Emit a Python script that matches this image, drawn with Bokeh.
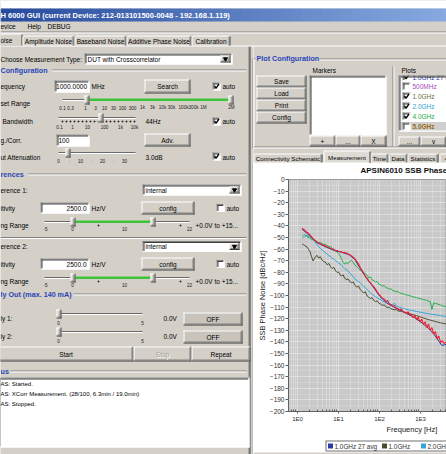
from bokeh.plotting import figure
from bokeh.models import Range1d, FixedTicker, Title, ColumnDataSource
from bokeh.layouts import column, row
from bokeh.embed import file_html
from bokeh.resources import INLINE
from bokeh.core.properties import value

# ------------------------------------------------------------------ data
freq_hz = [1.3, 1.4, 1.5, 1.6, 1.7, 1.8, 2.0, 2.2, 2.4, 2.6, 2.8, 3.0, 3.3, 3.6,
           4.0, 4.4, 4.8, 5.3, 5.8, 6.4, 7.0, 7.7, 8.5, 9.3, 10, 11, 12, 13, 14,
           16, 17, 19, 21, 23, 25, 28, 31, 34, 37, 41, 45, 50, 55, 60, 66, 73,
           80, 88, 97, 107, 118, 130, 143, 157, 173, 190, 210, 230, 255, 280,
           310, 340, 375, 410, 450, 500, 550, 600, 660, 730, 800, 880, 970,
           1070, 1180, 1300, 1430, 1570, 1730, 1900, 2100, 2300, 2550, 2800,
           3100, 3400, 3750, 4100, 4500]

red_dbc = [-42.0, -43.0, -43.5, -44.8, -45.5, -46.0, -47.8, -49.5, -51.0, -52.2,
           -53.0, -54.0, -54.6, -55.5, -56.0, -56.8, -57.2, -58.0, -58.5, -59.4,
           -59.8, -60.6, -61.0, -61.2, -61.8, -62.0, -62.6, -62.9, -63.0, -63.6,
           -64.2, -64.8, -65.9, -67.2, -68.5, -70.6, -73.0, -75.8, -78.2, -80.5,
           -83.4, -85.2, -87.5, -89.0, -90.8, -92.6, -94.5, -96.8, -99.0, -100.5,
           -102.4, -103.0, -105.2, -104.6, -107.4, -108.0, -109.2, -108.6, -110.8,
           -111.2, -112.5, -111.6, -113.9, -114.2, -115.6, -114.0, -117.0, -116.4,
           -119.2, -116.8, -120.8, -118.5, -122.9, -120.2, -125.0, -122.6, -127.8,
           -124.5, -130.2, -127.6, -133.4, -131.0, -137.2, -135.0, -140.6, -138.8,
           -141.4, -140.2, -141.0]

green_dbc = [-49.0, -48.0, -47.5, -48.6, -49.0, -49.8, -50.5, -51.8, -52.0, -52.9,
             -53.1, -53.5, -54.6, -54.2, -55.3, -56.0, -55.6, -57.2, -58.0, -57.6,
             -59.4, -60.0, -61.5, -62.6, -63.8, -66.0, -68.8, -71.5, -72.8, -71.6,
             -72.6, -70.4, -69.8, -71.5, -73.6, -75.2, -76.8, -78.4, -77.6, -80.5,
             -81.2, -82.6, -84.8, -84.0, -86.5, -87.2, -88.6, -88.0, -90.4, -90.8,
             -91.9, -91.4, -93.2, -93.6, -94.5, -94.2, -95.6, -96.0, -96.8, -96.5,
             -97.8, -98.2, -98.6, -98.9, -99.6, -99.8, -100.3, -100.6, -101.2,
             -101.4, -101.9, -102.2, -102.7, -103.0, -103.5, -103.8, -104.4,
             -104.8, -105.3, -112.0, -106.2, -106.8, -107.2, -107.8, -108.2,
             -108.9, -109.3, -109.8, -110.2]

ltblue_dbc = [-50.5, -50.0, -49.2, -48.6, -48.0, -48.8, -49.6, -50.8, -51.6, -53.0,
              -55.0, -56.2, -57.8, -59.4, -60.8, -62.0, -63.4, -64.2, -65.6, -66.4,
              -68.0, -68.6, -70.2, -71.0, -72.0, -72.8, -74.2, -75.6, -76.8, -78.0,
              -79.2, -80.6, -82.4, -84.0, -85.6, -87.0, -88.2, -89.0, -90.6, -92.0,
              -93.2, -95.0, -96.2, -97.6, -99.0, -100.0, -101.2, -102.0, -103.0,
              -103.6, -104.8, -105.2, -106.2, -104.0, -107.2, -107.6, -108.2,
              -106.6, -109.0, -109.6, -110.2, -110.6, -111.0, -111.3, -111.8,
              -112.2, -112.6, -112.8, -113.2, -113.4, -113.8, -114.0, -114.4,
              -114.6, -114.9, -115.2, -115.4, -115.7, -115.9, -116.2, -116.4,
              -116.6, -116.9, -117.1, -117.3, -117.6, -117.8, -118.0, -118.2]

olive_dbc = [-55.5, -56.2, -57.0, -57.4, -58.2, -59.5, -62.0, -66.5, -70.2, -68.0,
             -66.2, -65.4, -67.8, -66.6, -69.6, -70.8, -71.2, -73.6, -72.4, -75.2,
             -76.8, -75.6, -78.8, -80.2, -79.6, -82.4, -83.0, -82.2, -85.0, -86.4,
             -85.6, -88.2, -89.0, -88.4, -91.2, -92.6, -92.0, -95.0, -96.2, -97.8,
             -96.8, -100.4, -101.6, -102.6, -101.8, -104.4, -105.2, -104.6, -106.8,
             -107.4, -108.6, -108.0, -109.8, -110.4, -110.0, -111.4, -111.8, -112.4,
             -112.0, -113.2, -113.6, -113.4, -114.2, -114.6, -115.0, -115.4, -115.6,
             -116.2, -116.6, -117.0, -117.4, -117.8, -118.4, -118.8, -119.4, -119.8,
             -120.4, -120.8, -121.2, -121.6, -122.0, -122.4, -122.8, -123.2, -123.6,
             -123.9, -124.2, -124.5, -124.8]

avg_freq_hz = [1.3, 2, 3, 5, 8, 12, 18, 25, 35, 50, 70, 100, 150, 220, 330, 500,
               750, 1100, 1600, 2200, 2800, 3300, 3800, 4500]
avg_dbc = [-43.0, -48.5, -54.5, -58.3, -61.3, -62.8, -64.8, -69.0, -77.5, -86.0,
           -92.5, -100.5, -106.5, -109.8, -113.0, -116.2, -119.6, -123.8, -128.5,
           -134.0, -139.5, -143.0, -142.5, -142.0]

y_tick_values = [0, -10, -20, -30, -40, -50, -60, -70, -80, -90, -100, -110, -120,
                 -130, -140, -150, -160, -170, -180, -190, -200]
y_minor_values = [-5, -15, -25, -35, -45, -55, -65, -75, -85, -95, -105, -115,
                  -125, -135, -145, -155, -165, -175, -185, -195]
x_tick_values = [1, 10, 100, 1000]
x_tick_labels = ["1E0", "1E1", "1E2", "1E3"]
x_minor_values = [0.7, 0.8, 0.9, 2, 3, 4, 5, 6, 7, 8, 9, 20, 30, 40, 50, 60, 70,
                  80, 90, 200, 300, 400, 500, 600, 700, 800, 900, 2000, 3000, 4000]
legend_labels = ["1.0GHz  27 avg", "1.0GHz", "2.0GHz"]
plot_list_labels = ["500MHz", "1.0GHz", "2.0GHz", "4.0GHz", "5.0GHz"]
plot_list_checked = [False, True, True, True, False]

# ------------------------------------------------------------------ GUI helpers
FONT = "Liberation Sans"
GRAY = "#d4d0c8"
SHADOW = "#808080"
DKSHADOW = "#404040"
GROUP_BLUE = "#2a46b8"
WHITE = "#ffffff"
FS = 6.5


class Canvas:
    def __init__(self, x0, x1, y0, y1, bg=GRAY):
        self.p = figure(width=x1 - x0, height=y1 - y0,
                        x_range=Range1d(x0, x1), y_range=Range1d(y1, y0),
                        toolbar_location=None, output_backend="svg",
                        x_axis_location=None, y_axis_location=None,
                        min_border=0, outline_line_color=None, frame_align=False,
                        background_fill_color=bg, border_fill_color=bg)
        self.p.grid.visible = False
        self._new()

    def _new(self):
        self.q = dict(left=[], right=[], top=[], bottom=[], fill=[])
        self.s = dict(x0=[], y0=[], x1=[], y1=[], color=[], width=[])
        self.t = dict(x=[], y=[], text=[], size=[], color=[], style=[], align=[])
        self.m = dict(x=[], y=[], marker=[], size=[], color=[])

    def rect(self, l, t, r, b, fill):
        self.q["left"].append(l); self.q["right"].append(r)
        self.q["top"].append(t); self.q["bottom"].append(b)
        self.q["fill"].append(fill)

    def seg(self, x0, y0, x1, y1, color, width=1.0):
        for k, v in zip(("x0", "y0", "x1", "y1", "color", "width"),
                        (x0, y0, x1, y1, color, width)):
            self.s[k].append(v)

    def text(self, x, y, s, size=FS, color="black", bold=False, align="left"):
        self.t["x"].append(x); self.t["y"].append(y); self.t["text"].append(s)
        self.t["size"].append(f"{size}px"); self.t["color"].append(color)
        self.t["style"].append("bold" if bold else "normal")
        self.t["align"].append(align)

    def marker(self, x, y, kind, size, color):
        self.m["x"].append(x); self.m["y"].append(y); self.m["marker"].append(kind)
        self.m["size"].append(size); self.m["color"].append(color)

    def flush(self):
        p = self.p
        if self.q["left"]:
            p.quad(source=ColumnDataSource(self.q), left="left", right="right",
                   top="top", bottom="bottom", fill_color="fill", line_color=None)
        if self.s["x0"]:
            p.segment(source=ColumnDataSource(self.s), x0="x0", y0="y0", x1="x1",
                      y1="y1", line_color="color", line_width="width")
        if self.t["x"]:
            p.text(source=ColumnDataSource(self.t), x="x", y="y", text="text",
                   text_font=value(FONT), text_font_size="size",
                   text_color="color", text_font_style="style",
                   text_align="align", text_baseline="middle")
        if self.m["x"]:
            p.scatter(source=ColumnDataSource(self.m), x="x", y="y",
                      marker="marker", size="size", fill_color="color",
                      line_color="color")
        self._new()

    # ---- widgets
    def hline(self, x0, x1, y, color, w=1.0):
        self.seg(x0, y, x1, y, color, w)

    def vline(self, x, y0, y1, color, w=1.0):
        self.seg(x, y0, x, y1, color, w)

    def raised(self, l, t, r, b, fill=GRAY):
        self.rect(l, t, r, b, fill)
        self.hline(l, r, t + 0.5, WHITE)
        self.vline(l + 0.5, t, b, WHITE)
        self.hline(l, r, b - 0.5, DKSHADOW)
        self.vline(r - 0.5, t, b, DKSHADOW)
        self.hline(l + 1, r - 1, b - 1.5, SHADOW)
        self.vline(r - 1.5, t + 1, b - 1, SHADOW)

    def sunken(self, l, t, r, b, fill=WHITE):
        self.rect(l, t, r, b, fill)
        self.hline(l, r, t + 0.5, SHADOW)
        self.vline(l + 0.5, t, b, SHADOW)
        self.hline(l + 1, r - 1, t + 1.5, DKSHADOW)
        self.vline(l + 1.5, t + 1, b - 1, DKSHADOW)
        self.hline(l, r, b - 0.5, WHITE)
        self.vline(r - 0.5, t, b, WHITE)

    def button(self, l, t, r, b, label, color="black", fill=GRAY, size=FS):
        self.raised(l, t, r, b, fill)
        self.text((l + r) / 2, (t + b) / 2, label, size=size, color=color,
                  align="center")

    def combo(self, l, t, r, b, label):
        self.sunken(l, t, r, b)
        self.text(l + 3, (t + b) / 2, label)
        self.raised(r - 12, t + 2, r - 2, b - 2)
        self.marker(r - 7, (t + b) / 2, "inverted_triangle", 4, "black")

    def checkbox(self, x, y, checked):
        self.sunken(x, y - 4, x + 8, y + 4)
        if checked:
            self.seg(x + 2, y - 0.5, x + 3.5, y + 1.8, "black", 1.4)
            self.seg(x + 3.5, y + 1.8, x + 6.5, y - 2.6, "black", 1.4)

    def etched_h(self, x0, x1, y):
        self.hline(x0, x1, y + 0.5, SHADOW)
        self.hline(x0, x1, y + 1.5, WHITE)

    def etched_v(self, x, y0, y1):
        self.vline(x + 0.5, y0, y1, SHADOW)
        self.vline(x + 1.5, y0, y1, WHITE)

    def slider(self, x0, x1, y, thumbs, green=None, dots=()):
        self.hline(x0, x1, y, "#6a6a6a", 1.2)
        self.hline(x0, x1, y + 1, WHITE, 1.0)
        if green:
            self.hline(green[0], green[1], y + 0.3, "#3cc43c", 2.4)
        for d in dots:
            self.marker(d, y + 4, "circle", 1.2, "#303030")
        self.flush()
        for tx in thumbs:
            self.raised(tx - 2, y - 4, tx + 3, y + 5)

    def ticklabels(self, y, items, size=4.6):
        for x, s in items:
            self.text(x, y, s, size=size, color="#202020", align="center")


# ------------------------------------------------------------------ top strip
top = Canvas(0, 446, 0, 46)
top.rect(0, 0, 446, 8, WHITE)
c0, c1 = (40, 76, 158), (136, 170, 224)
n_strips = 45
for i in range(n_strips):
    f = i / (n_strips - 1)
    col = "#%02x%02x%02x" % tuple(int(a + (b - a) * f) for a, b in zip(c0, c1))
    top.rect(i * 10, 8, (i + 1) * 10 + 0.5, 21, col)
top.text(0, 14.8, "H 6000 GUI (current Device: 212-013101500-0048 - 192.168.1.119)",
         size=7.5, color=WHITE, bold=True)
top.text(0, 26.3, "evice")
top.text(27, 26.3, "Help")
top.text(47, 26.3, "DEBUG")
top.etched_h(0, 446, 31)
top.hline(21, 446, 45.5, WHITE)
tabs = [(-2, 22, "oise"), (22, 74, "Amplitude Noise"), (74, 126, "Baseband Noise"),
        (126, 191, "Additive Phase Noise"), (191, 230, "Calibration")]
for i, (l, r, lab) in enumerate(tabs):
    if i == 0:
        top.rect(l, 33, r, 46, GRAY)
        top.hline(l, r, 33.5, WHITE)
        top.vline(r - 0.5, 34, 45, DKSHADOW)
        top.text(0, 40, lab)
    else:
        top.rect(l, 35, r, 45, GRAY)
        top.hline(l + 1, r - 1, 35.5, WHITE)
        top.vline(l + 0.5, 36, 45, WHITE)
        top.vline(r - 0.5, 36, 45, DKSHADOW)
        top.vline(r - 1.5, 36, 45, SHADOW)
        top.text((l + r) / 2, 40.5, lab, align="center")
top.flush()

# ------------------------------------------------------------------ left panel
L = Canvas(0, 253, 46, 454)
L.vline(248.5, 46, 454, SHADOW)
L.vline(249.5, 46, 454, DKSHADOW)
L.vline(252.5, 58, 148, SHADOW)
L.vline(252.5, 163, 454, "#a8a8a8")

L.text(0, 58.5, "Choose Measurement Type:")
L.combo(84, 53, 232, 64, "DUT with Crosscorrelator")

L.text(0, 70, "Configuration", size=7.2, color=GROUP_BLUE, bold=True)
L.etched_h(52, 246, 69)

L.text(0, 86, "equency")
L.sunken(54, 80, 89, 92)
L.text(55.5, 86.2, "1000.0000", size=6.6)
L.text(91, 86, "MHz")
L.button(144, 79, 190, 93, "Search")
L.checkbox(212, 86, True)
L.text(222, 86, "auto")

L.text(0, 103, "set Range")
L.slider(62, 232, 99, [86, 230], green=(86, 231))
L.ticklabels(107, [(62, "0.1"), (70, "0.3"), (85, "1"), (95, "3"), (104, "10"),
                   (113, "30"), (122, "100"), (132, "300"), (142, "1k"),
                   (152, "3k"), (162, "10k"), (171, "30k"), (183, "100k"),
                   (193, "300k"), (203, "1M"), (231, "2M")])

L.text(2, 121, "Bandwidth")
L.slider(58, 135, 117, [100],
         dots=(62, 66, 70, 74, 78, 82, 86, 90, 94, 98, 102, 106, 110, 114, 118,
               122, 126, 130, 134))
L.ticklabels(126.5, [(59, "0.1"), (72, "1"), (87, "10"), (104, "100"),
                     (120, "1k"), (134, "10k")])
L.text(145, 121, "44Hz")
L.checkbox(212, 121, True)
L.text(222, 121, "auto")

L.text(0, 140, "g./Corr.")
L.sunken(56, 134, 89, 146)
L.text(58, 140.2, "100")
L.button(144, 133, 190, 146, "Adv.")

L.text(0, 156.5, "ut Attenuation")
L.slider(58, 135, 152, [67])
L.ticklabels(160.5, [(58, "0"), (69, "·"), (80, "10"), (91, "·"), (102, "20"),
                     (113, "·"), (124, "30")])
L.text(145, 156.5, "3.0dB")
L.checkbox(212, 156, True)
L.text(222, 156.5, "auto")

L.text(0, 174, "rences", size=7.2, color=GROUP_BLUE, bold=True)
L.etched_h(28, 246, 173)

for (yc, ys, yt, name) in [(189.5, 207.5, 225, "erence 1:"),
                           (246, 263.5, 281, "erence 2:")]:
    L.text(0, yc, name)
    L.combo(142, yc - 5.5, 241, yc + 5.5, "internal")
    L.text(0, ys, "itivity")
    L.sunken(40, ys - 5.5, 89, ys + 5.5)
    L.text(86, ys, "2500.0", align="right")
    L.text(91, ys, "Hz/V")
    L.button(141, ys - 6.5, 194, ys + 6.5, "config")
    L.checkbox(216, ys, False)
    L.text(226, ys, "auto")
    L.text(0, yt, "ng Range")
    L.slider(44, 189, yt - 4, [72, 152], green=(72, 152), dots=(98, 180))
    L.ticklabels(yt + 3.5, [(45, "-5"), (72, "0"), (124, "10"), (189, "22")])
    L.text(195, yt - 0.5, "+0.0V to +15...")
L.etched_h(0, 246, 236.5)

L.text(0, 294, "ly Out (max. 140 mA)", size=7.2, color=GROUP_BLUE, bold=True)
L.etched_h(73, 246, 293)
for yr, lab in [(318, "ly 1:"), (336, "ly 2:")]:
    L.text(0, yr, lab)
    L.slider(57, 142, yr - 5, [58])
    L.ticklabels(yr + 4, [(58, "0"), (142, "5")])
    L.text(163, yr, "0.0V")
    L.button(183, yr - 6, 242, yr + 7, "OFF", fill="#c8c4bc")

L.button(-2, 346, 133, 361, "Start")
L.raised(133, 346, 191, 361)
L.text(163, 354.5, "Stop", color=WHITE, align="center")
L.text(162, 353.5, "Stop", color="#a09c94", align="center")
L.button(191, 346, 250, 361, "Repeat")

L.text(0, 371, "us", size=7.2, color=GROUP_BLUE, bold=True)
L.etched_h(10, 246, 370)
L.sunken(-2, 377, 249, 447)
L.text(0, 383.5, "AS: Started.", size=6)
L.text(0, 393.5, "AS: XCorr Measurement. (28/100, 6.3min / 19.0min)", size=6)
L.text(0, 403.5, "AS: Stopped.", size=6)
L.flush()

# ------------------------------------------------------------------ right top panel
COL_AVG = "#2b3aa8"
COL_OLIVE = "#4a4a30"
COL_LTBLUE = "#36a4d8"
COL_GREEN = "#22b04a"
COL_RED = "#f0202c"

R = Canvas(253, 446, 46, 163)
R.vline(253.5, 58, 148, WHITE)
R.etched_h(253, 255, 58)
R.etched_h(319, 446, 58)
R.etched_h(253, 446, 146)
R.text(256, 57.5, "Plot Configuration", size=7.2, color=GROUP_BLUE, bold=True)
for i, lab in enumerate(["Save", "Load", "Print", "Config"]):
    R.button(256, 75 + 12 * i, 306, 87 + 12 * i, lab)
R.text(312, 70, "Markers")
R.sunken(309, 75, 386, 135)
R.button(309, 135, 335, 146, "+")
R.button(335, 135, 360, 146, "...")
R.button(360, 135, 386, 146, "X")
R.etched_v(392, 66, 146)
R.rect(398, 75, 450, 131, WHITE)
R.rect(400, 121.5, 450, 130.5, "#cfcfcf")
# list scrolled: the first entry shows only its lower half
R.checkbox(402, 76.5, True)
R.text(412, 76.8, legend_labels[0], color=COL_AVG)
item_colors = ["#a848c0", "#6a6a3c", "#2e9fd4", "#22aa44", "#9a6a14"]
for i, lab in enumerate(plot_list_labels):
    yy = 86 + 10 * i
    R.checkbox(402, yy, plot_list_checked[i])
    R.text(412, yy + 0.3, lab, color=item_colors[i], bold=(i == 4))
R.flush()
R.rect(396, 70.5, 450, 75, GRAY)
R.hline(398, 450, 75.5, SHADOW)
R.hline(400, 450, 76.5, DKSHADOW)
R.vline(398.5, 75, 131, SHADOW)
R.vline(399.5, 76, 130, DKSHADOW)
R.hline(398, 450, 130.5, WHITE)
R.text(401, 69.5, "Plots")
R.button(398, 136, 420, 146, "...")
R.button(420, 136, 446, 146, "v")
tabs2 = [(253, 322, "Connectivity Schematic"), (370, 388, "Time"),
         (388, 407, "Data"), (407, 438, "Statistics"), (439, 452, "<")]
for l, r, lab in tabs2:
    R.rect(l, 153, r, 163, GRAY)
    R.hline(l + 1, r - 1, 153.5, WHITE)
    R.vline(l + 0.5, 154, 163, WHITE)
    R.vline(r - 0.5, 154, 163, DKSHADOW)
    R.vline(r - 1.5, 154, 163, SHADOW)
    R.text((l + r) / 2, 158.3, lab, size=6.2, align="center")
R.hline(253, 446, 162.5, WHITE)
R.rect(323, 150, 370, 163, "#dedbd5")
R.hline(323, 370, 150.5, WHITE)
R.vline(323.5, 151, 163, WHITE)
R.vline(369.5, 151, 163, DKSHADOW)
R.text(346.5, 156.5, "Measurement", size=6.2, align="center")
R.flush()

# ------------------------------------------------------------------ chart
chart = figure(width=193, height=275, x_axis_type="log",
               x_range=Range1d(0.603, 4306), y_range=Range1d(-200, 0),
               toolbar_location=None, output_backend="svg", frame_align=False,
               min_border_left=35, min_border_right=0, min_border_top=15,
               min_border_bottom=27,
               background_fill_color="#c9c9c9", border_fill_color=WHITE,
               outline_line_color="#9a9a9a")
chart.title.text = "APSIN6010 SSB Phase Noise"
chart.title.align = "left"
chart.title.vertical_align = "top"
chart.title.offset = 72
chart.title.standoff = 5
chart.title.text_font = FONT
chart.title.text_font_size = "8px"
chart.title.text_font_style = "bold"
chart.title.text_color = "#101010"

chart.yaxis.ticker = FixedTicker(ticks=y_tick_values, minor_ticks=y_minor_values)
chart.xaxis.ticker = FixedTicker(ticks=x_tick_values, minor_ticks=x_minor_values)
chart.xaxis.major_label_overrides = {v: s for v, s in zip(x_tick_values, x_tick_labels)}
for ax in (chart.xaxis[0], chart.yaxis[0]):
    ax.axis_line_color = "#606060"
    ax.major_tick_line_color = "#606060"
    ax.minor_tick_line_color = "#606060"
    ax.major_label_text_font = FONT
    ax.major_label_text_color = "#303030"
chart.yaxis.major_tick_out = 3
chart.yaxis.major_tick_in = 0
chart.yaxis.minor_tick_out = 0
chart.yaxis.minor_tick_in = 0
chart.yaxis.major_label_standoff = 1
chart.yaxis.major_label_text_font_size = "6.5px"
chart.yaxis.axis_label = "SSB Phase Noise [dBc/Hz]"
chart.yaxis.axis_label_text_font = FONT
chart.yaxis.axis_label_text_font_size = "7.5px"
chart.yaxis.axis_label_text_font_style = "normal"
chart.yaxis.axis_label_text_color = "#202020"
chart.yaxis.axis_label_standoff = 0
chart.xaxis.major_tick_out = 2
chart.xaxis.major_tick_in = 0
chart.xaxis.minor_tick_in = 2
chart.xaxis.minor_tick_out = 0
chart.xaxis.major_label_standoff = 2
chart.xaxis.major_label_text_font_size = "6px"

chart.ygrid.grid_line_color = WHITE
chart.ygrid.grid_line_alpha = 0.75
chart.ygrid.grid_line_dash = "1 1"
chart.ygrid.minor_grid_line_color = WHITE
chart.ygrid.minor_grid_line_alpha = 0.35
chart.ygrid.minor_grid_line_dash = "1 1"
chart.xgrid.grid_line_color = WHITE
chart.xgrid.grid_line_alpha = 0.75
chart.xgrid.grid_line_dash = "1 1"
chart.xgrid.minor_grid_line_color = WHITE
chart.xgrid.minor_grid_line_alpha = 0.5
chart.xgrid.minor_grid_line_dash = "1 1"

chart.line(freq_hz, olive_dbc, line_color=COL_OLIVE, line_width=1)
chart.line(freq_hz, ltblue_dbc, line_color=COL_LTBLUE, line_width=1)
chart.line(freq_hz, green_dbc, line_color=COL_GREEN, line_width=1)
chart.line(avg_freq_hz, avg_dbc, line_color=COL_AVG, line_width=1)
chart.line(freq_hz, red_dbc, line_color=COL_RED, line_width=1.1)

freq_title = Title(text="Frequency [Hz]", align="left", offset=98, standoff=0,
                   vertical_align="top",
                   text_font=FONT, text_font_size="7.5px",
                   text_font_style="normal", text_color="#202020")
chart.add_layout(freq_title, "below")

# legend strip under the chart (series key)
LG = Canvas(253, 446, 438, 454, bg=WHITE)
LG.rect(253, 452, 446, 454, GRAY)
LG.rect(325, 440, 450, 451, "#707070")
LG.rect(326, 441, 449, 450, WHITE)
key_x = [330, 384, 423]
for kx, lab, colr in zip(key_x, legend_labels, (COL_AVG, COL_OLIVE, COL_LTBLUE)):
    LG.rect(kx - 2.5, 443, kx + 2.5, 448, colr)
    LG.text(kx + 4, 445.8, lab, size=6.4, color="#303030")
LG.flush()

layout = column(top.p, row(L.p, column(R.p, chart, LG.p)))
open("out.html", "w").write(file_html(layout, INLINE))
